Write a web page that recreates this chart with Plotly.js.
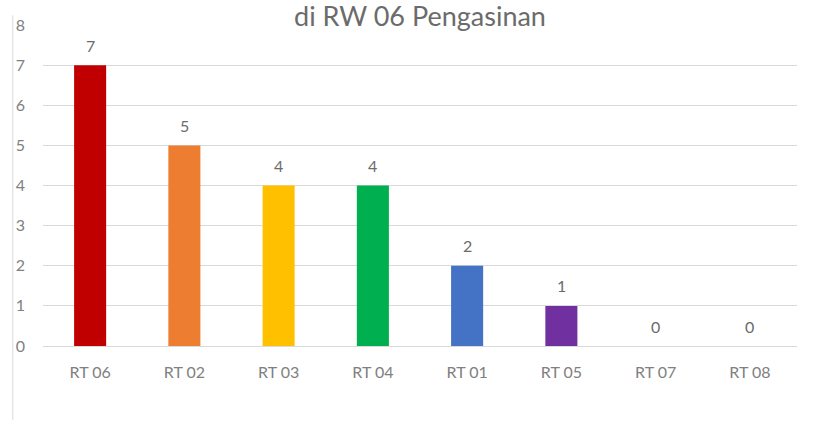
<!DOCTYPE html>
<html><head><meta charset="utf-8">
<script src="https://cdn.plot.ly/plotly-3.0.1.min.js"></script>
<style>html,body{margin:0;padding:0;background:#fff}#c{width:820px;height:425px}</style>
</head><body><div id="c"></div>
<script>
const categories = ["RT 06","RT 02","RT 03","RT 04","RT 01","RT 05","RT 07","RT 08"];
const values = [7,5,4,4,2,1,0,0];
const colors = ["#C00000","#ED7D31","#FFC000","#00B050","#4472C4","#7030A0","#A5A5A5","#A5A5A5"];
const yTicks = [0,1,2,3,4,5,6,7,8];
const titleText = "di RW 06 Pengasinan";

const font = "Lato, 'Open Sans', sans-serif";
const labelColor = '#808080';
Plotly.newPlot('c', [{
  type:'bar', x:categories, y:values,
  marker:{color:colors},
  hoverinfo:'none'
}], {
  width:820, height:425,
  margin:{l:43, r:23, t:25, b:79},
  paper_bgcolor:'#fff', plot_bgcolor:'#fff',
  bargap:0.66,
  title:{text:titleText, font:{family:font, size:27, color:'#6b6b6b'}, xref:'paper', x:0.5, xanchor:'center', yref:'container', y:0.96, yanchor:'middle'},
  xaxis:{type:'category', showgrid:false, showline:true, linecolor:'#D9D9D9', linewidth:1,
    tickfont:{family:font, size:16, color:labelColor}, ticks:'', ticklabelstandoff:12},
  yaxis:{range:[0,8], tickvals:yTicks, showgrid:true, gridcolor:'#D9D9D9', zeroline:false, showline:false,
    tickfont:{family:font, size:16, color:labelColor}, ticks:'', ticklabelstandoff:17},
  annotations: categories.map((c,i)=>({x:c, y:values[i], xref:'x', yref:'y', text:String(values[i]), showarrow:false,
    yshift:20, yanchor:'middle', font:{family:font, size:16, color:'#6b6b6b'}})),
  shapes:[{type:'line', xref:'paper', yref:'paper', x0:-0.04, x1:-0.04, y0:-0.23, y1:1.03, line:{color:'#D9D9D9', width:1}}],
  showlegend:false
}, {staticPlot:true});
</script></body></html>
